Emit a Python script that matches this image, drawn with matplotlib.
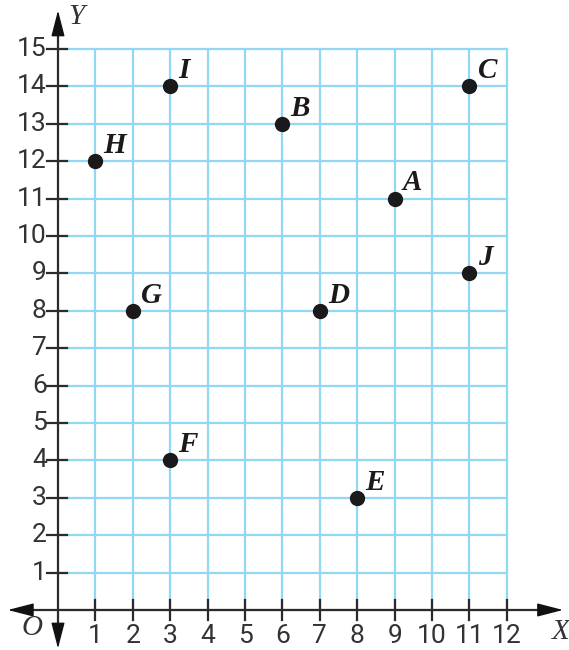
import matplotlib.pyplot as plt

# Named points on the coordinate grid
names = ["A", "B", "C", "D", "E", "F", "G", "H", "I", "J"]
xs = [9, 6, 11, 7, 8, 3, 2, 1, 3, 11]
ys = [11, 13, 14, 8, 3, 4, 8, 12, 14, 9]

x_ticks = list(range(1, 13))
y_ticks = list(range(1, 16))

grid_color = "#92d7f3"
axis_color = "#2b2b2b"
num_font = "Roboto"
letter_font = "Liberation Serif"

fig = plt.figure(figsize=(5.69, 6.5), dpi=100)
ax = fig.add_axes([0, 0, 1, 1])
ax.set_xlim(-1.55, 13.66)
ax.set_ylim(-1.07, 16.31)
ax.axis("off")

# Blue grid
for gx in x_ticks:
    ax.plot([gx, gx], [0, 15], color=grid_color, lw=1.6, zorder=1)
for gy in [0] + y_ticks:
    ax.plot([0, 12], [gy, gy], color=grid_color, lw=1.6, zorder=1)

# Axis lines
ax.plot([-0.9, 13.0], [0, 0], color=axis_color, lw=1.6, zorder=3)
ax.plot([0, 0], [-0.6, 15.6], color=axis_color, lw=1.6, zorder=3)

# Filled arrowheads at both ends of each axis
head = dict(arrowstyle="-|>,head_length=0.62,head_width=0.16", color="#111111",
            lw=1, mutation_scale=26, shrinkA=0, shrinkB=0)
for tip, base in [((13.5, 0), (12.9, 0)), ((-1.34, 0), (-0.74, 0)),
                  ((0, 16.03), (0, 15.45)), ((0, -1.03), (0, -0.45))]:
    ax.annotate("", xy=tip, xytext=base, arrowprops=head, zorder=4)

# Tick marks and numbers
for tx in x_ticks:
    ax.plot([tx, tx], [-0.27, 0.28], color=axis_color, lw=1.6, zorder=3)
    ax.text(tx, -0.38, str(tx), ha="center", va="top", fontsize=19,
            family=num_font, color="#333333")
for ty in y_ticks:
    ax.plot([-0.3, 0.25], [ty, ty], color=axis_color, lw=1.6, zorder=3)
    ax.text(-0.3, ty, str(ty), ha="right", va="center", fontsize=19,
            family=num_font, color="#333333")

ax.text(-0.7, -0.47, "O", ha="center", va="center", fontsize=21,
        family=letter_font, style="italic", color="#333333")
ax.text(13.45, -0.6, "X", ha="center", va="center", fontsize=21,
        family=letter_font, style="italic", color="#333333")
ax.text(0.5, 15.85, "Y", ha="center", va="center", fontsize=21,
        family=letter_font, style="italic", color="#333333")

# Points and their letters
ax.plot(xs, ys, "o", color="#1a1a1a", markersize=10, zorder=5)
for n, px, py in zip(names, xs, ys):
    ax.text(px + 0.22, py + 0.22, n, ha="left", va="baseline", fontsize=21,
            family=letter_font, style="italic", weight="bold", color="#1a1a1a")

fig.savefig("out.png", dpi=100)
